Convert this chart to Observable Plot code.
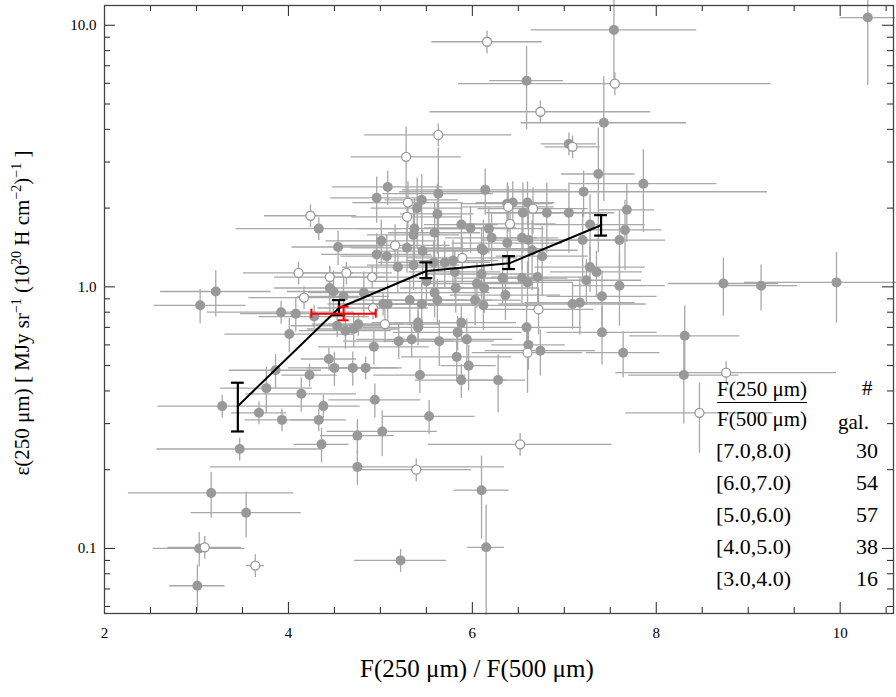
<!DOCTYPE html>
<html><head><meta charset="utf-8">
<script src="https://cdn.jsdelivr.net/npm/d3@7"></script>
<script src="https://cdn.jsdelivr.net/npm/@observablehq/plot@0.6"></script>
<style>
body{margin:0;background:#fff;}
#wrap{position:relative;width:896px;height:697px;font-family:"Liberation Serif",serif;}
.lg{position:absolute;font-size:22px;color:#000;white-space:nowrap;}
</style></head><body>
<div id="wrap"><div id="chart"></div></div>
<script>
// filled galaxies: [ratio, emissivity, ratio half-error, relative emissivity error]
const filled = [
[10.30,10.7,0.3,0.45],[7.54,9.6,0.9,0.4],[6.59,6.14,0.4,0.35],[7.43,4.24,0.9,0.5],[7.05,3.52,0.3,0.1],
[7.37,2.70,0.4,0.5],[7.86,2.48,0.8,0.35],[5.08,2.41,0.6,0.15],[4.96,2.19,0.5,0.2],[5.45,2.15,0.4,0.25],
[5.63,2.27,0.6,0.5],[6.14,2.35,0.9,0.2],[7.21,2.31,2.0,0.2],[7.68,1.97,0.3,0.25],[6.38,2.08,0.5,0.2],
[6.44,2.10,0.4,0.2],[6.60,2.10,0.3,0.2],[5.40,2.00,0.5,0.3],[5.62,1.90,0.4,0.3],[4.33,1.67,0.9,0.1],
[5.37,1.67,0.6,0.3],[5.36,1.58,0.5,0.3],[5.59,1.61,0.5,0.3],[5.88,1.73,0.4,0.2],[5.98,1.68,0.5,0.2],
[6.18,1.67,0.6,0.2],[6.55,1.92,0.4,0.3],[6.81,1.92,0.6,0.3],[7.05,1.92,0.5,0.3],[7.28,1.73,0.6,0.3],
[7.66,1.65,0.4,0.3],[7.60,1.51,0.5,0.3],[7.20,1.51,0.4,0.3],[6.21,1.54,0.5,0.25],[6.54,1.54,0.4,0.25],
[6.61,1.51,0.5,0.3],[6.38,1.47,0.6,0.3],[6.65,1.38,0.5,0.3],[6.76,1.31,0.5,0.3],[6.12,1.38,0.6,0.3],
[4.54,1.42,0.5,0.15],[5.01,1.50,0.6,0.2],[4.96,1.33,0.6,0.2],[5.07,1.31,0.5,0.2],[5.29,1.41,0.6,0.2],
[5.46,1.37,0.5,0.2],[6.10,1.40,0.7,0.2],[5.19,1.19,0.6,0.2],[5.36,1.21,0.5,0.2],[5.58,1.24,0.6,0.2],
[5.70,1.24,0.5,0.2],[5.79,1.26,0.5,0.2],[5.81,1.14,0.5,0.2],[6.10,1.12,0.6,0.2],[5.50,1.05,0.6,0.2],
[5.82,0.99,0.6,0.2],[6.05,1.03,0.6,0.2],[6.13,0.99,0.6,0.2],[3.21,0.96,0.6,0.2],[3.04,0.85,0.5,0.15],
[4.45,0.99,0.6,0.2],[4.49,0.96,0.5,0.2],[4.60,0.92,0.5,0.2],[4.82,0.95,0.6,0.2],[5.08,0.86,0.5,0.2],
[5.32,0.89,0.6,0.2],[5.45,0.86,0.6,0.2],[5.59,0.95,0.6,0.2],[5.62,0.89,0.6,0.2],[6.03,0.89,0.5,0.2],
[6.12,0.85,0.6,0.2],[7.24,1.06,0.6,0.2],[7.28,1.19,0.6,0.2],[7.35,1.14,0.5,0.2],[7.60,1.01,0.5,0.3],
[7.41,0.92,0.6,0.25],[8.73,1.03,0.6,0.25],[9.14,1.01,0.4,0.2],[9.96,1.04,1.0,0.3],[7.09,0.86,0.8,0.2],
[7.17,0.87,0.6,0.25],[6.54,1.08,0.5,0.2],[6.60,1.04,0.5,0.2],[6.71,1.09,0.5,0.2],[6.33,1.08,0.5,0.2],
[6.36,0.93,0.6,0.2],[3.92,0.80,0.8,0.1],[4.08,0.79,0.6,0.15],[4.28,0.77,0.6,0.1],[4.01,0.66,0.7,0.15],
[5.03,0.86,0.6,0.1],[5.41,0.73,0.5,0.15],[5.41,0.70,0.6,0.15],[5.88,0.73,0.6,0.15],[5.84,0.67,0.7,0.15],
[5.94,0.63,0.5,0.2],[4.93,0.59,0.6,0.15],[5.20,0.62,0.6,0.15],[5.34,0.63,0.6,0.15],[5.64,0.62,0.6,0.2],
[6.59,0.70,0.6,0.2],[6.61,0.60,0.4,0.2],[6.74,0.57,0.6,0.2],[7.41,0.67,0.6,0.25],[7.64,0.56,0.4,0.2],
[8.31,0.65,0.6,0.3],[8.30,0.46,0.6,0.35],[4.53,0.71,0.5,0.1],[4.62,0.68,0.5,0.15],[4.71,0.69,0.5,0.15],
[4.76,0.72,0.5,0.1],[4.44,0.53,0.3,0.1],[4.50,0.49,0.5,0.15],[4.70,0.49,0.5,0.15],[4.84,0.49,0.4,0.1],
[3.86,0.48,0.5,0.15],[4.23,0.46,0.3,0.1],[3.76,0.41,0.5,0.2],[4.14,0.39,0.6,0.15],[5.43,0.46,0.5,0.15],
[5.83,0.54,0.6,0.2],[5.96,0.50,0.3,0.2],[5.88,0.44,0.5,0.15],[6.28,0.44,0.3,0.25],[4.94,0.37,0.5,0.15],
[3.28,0.35,0.7,0.1],[3.68,0.33,0.3,0.1],[3.93,0.31,0.4,0.1],[4.33,0.31,0.3,0.1],[4.38,0.35,0.4,0.1],
[5.53,0.32,0.5,0.15],[5.02,0.28,0.6,0.2],[4.75,0.27,0.4,0.15],[4.36,0.25,0.3,0.15],[3.47,0.24,0.9,0.1],
[4.75,0.205,1.6,0.15],[6.10,0.167,0.3,0.35],[3.16,0.163,0.9,0.2],[3.54,0.137,0.6,0.2],[6.15,0.101,0.2,0.45],
[3.03,0.10,0.5,0.15],[5.22,0.090,0.5,0.1],[3.01,0.072,0.3,0.2]
];
// open symbols
const open = [
[6.16,8.65,0.6,0.1],[7.55,5.98,1.7,0.1],[6.74,4.67,1.2,0.1],[5.63,3.81,0.8,0.1],[5.28,3.14,0.6,0.3],
[7.09,3.43,0.3,0.1],[6.66,1.99,0.6,0.2],[6.41,1.74,0.5,0.2],[6.39,2.02,0.5,0.2],[4.24,1.87,0.5,0.1],
[5.30,2.10,0.6,0.2],[5.29,1.85,0.6,0.2],[5.16,1.44,0.6,0.2],[4.11,1.13,0.6,0.1],[4.45,1.09,0.6,0.1],
[4.63,1.13,0.5,0.1],[4.91,1.09,0.5,0.1],[5.89,1.29,0.6,0.2],[4.17,0.91,0.6,0.1],[4.92,0.83,0.6,0.1],
[6.60,0.56,0.6,0.3],[6.72,0.82,0.6,0.2],[5.05,0.72,0.6,0.15],[8.47,0.33,0.8,0.3],[8.76,0.47,1.2,0.1],
[6.52,0.25,1.0,0.1],[5.39,0.20,0.6,0.1],[3.09,0.101,0.4,0.1],[3.64,0.086,0.1,0.1]
];
// binned means
const binX = [3.45, 4.55, 5.5, 6.4, 7.4];
const binY = [0.35, 0.83, 1.15, 1.23, 1.72];
const binLo = [0.28, 0.78, 1.08, 1.17, 1.57];
const binHi = [0.43, 0.89, 1.24, 1.31, 1.88];
// red point
const redX = 4.6, redY = 0.79, redXlo = 4.25, redXhi = 4.95, redYlo = 0.745, redYhi = 0.84;
const binLabels = ["[7.0,8.0)", "[6.0,7.0)", "[5.0,6.0)", "[4.0,5.0)", "[3.0,4.0)"];
const binCounts = [30, 54, 57, 38, 16];

const xMin = 2, xMax = 10.58, yMin = 0.0564, yMax = 11.9;
const toRows = a => a.map(([x, y, xe, ye]) => ({x, y, x1: x - xe, x2: x + xe, y1: y * (1 - ye), y2: y * (1 + ye)}));
const F = toRows(filled), O = toRows(open);
const all = F.concat(O);
const bins = binX.map((x, i) => ({x, y: binY[i], lo: binLo[i], hi: binHi[i]}));

// frame ticks (inside)
const xMaj = [2,4,6,8,10], xMinr = d3.range(2, 10.6, 0.5).filter(v => !xMaj.includes(v));
const yMaj = [0.1, 1, 10];
const yMinr = [0.06,0.07,0.08,0.09,0.2,0.3,0.4,0.5,0.6,0.7,0.8,0.9,2,3,4,5,6,7,8,9];
const fy = px => Math.pow(10, px / 261.5), fx = px => px / 92.1;
const gray = "#a8a8a8";

const chart = Plot.plot({
  width: 896, height: 697,
  marginLeft: 104, marginRight: 3, marginTop: 5, marginBottom: 84,
  style: {fontFamily: "Liberation Serif, serif", fontSize: "15px", background: "white"},
  x: {domain: [xMin, xMax], ticks: xMaj, tickSize: 0, tickPadding: 14, tickFormat: d => d, label: null},
  y: {type: "log", domain: [yMin, yMax], ticks: yMaj, tickSize: 0, tickPadding: 8, tickFormat: d3.format(".1f"), label: null},
  marks: [
    Plot.ruleX(all, {x: "x", y1: "y1", y2: "y2", stroke: gray, strokeWidth: 1.3}),
    Plot.ruleY(all, {y: "y", x1: "x1", x2: "x2", stroke: gray, strokeWidth: 1.3}),
    Plot.dot(F, {x: "x", y: "y", r: 5, fill: "#999", stroke: "none"}),
    Plot.dot(O, {x: "x", y: "y", r: 4.5, fill: "white", stroke: "#999", strokeWidth: 1.3}),
    Plot.line(bins, {x: "x", y: "y", stroke: "black", strokeWidth: 2}),
    Plot.ruleX(bins, {x: "x", y1: "lo", y2: "hi", stroke: "black", strokeWidth: 2.2}),
    Plot.ruleY(bins, {y: "lo", x1: d => d.x - 0.07, x2: d => d.x + 0.07, stroke: "black", strokeWidth: 2.2}),
    Plot.ruleY(bins, {y: "hi", x1: d => d.x - 0.07, x2: d => d.x + 0.07, stroke: "black", strokeWidth: 2.2}),
    Plot.ruleY([redY], {x1: redXlo, x2: redXhi, stroke: "red", strokeWidth: 2}),
    Plot.ruleX([redXlo, redXhi], {y1: redY / 1.04, y2: redY * 1.04, stroke: "red", strokeWidth: 2}),
    Plot.ruleX([redX], {y1: redYlo, y2: redYhi, stroke: "red", strokeWidth: 2}),
    Plot.ruleY([redYlo, redYhi], {x1: redX - 0.06, x2: redX + 0.06, stroke: "red", strokeWidth: 2}),
    // inner ticks on all four sides
    Plot.ruleX(xMaj, {y1: yMin, y2: yMin * fy(11), stroke: "#222"}),
    Plot.ruleX(xMinr, {y1: yMin, y2: yMin * fy(6), stroke: "#222"}),
    Plot.ruleX(xMaj, {y1: yMax, y2: yMax / fy(11), stroke: "#222"}),
    Plot.ruleX(xMinr, {y1: yMax, y2: yMax / fy(6), stroke: "#222"}),
    Plot.ruleY(yMaj, {x1: xMin, x2: xMin + fx(11), stroke: "#222"}),
    Plot.ruleY(yMinr, {x1: xMin, x2: xMin + fx(6), stroke: "#222"}),
    Plot.ruleY(yMaj, {x1: xMax, x2: xMax - fx(11), stroke: "#222"}),
    Plot.ruleY(yMinr, {x1: xMax, x2: xMax - fx(6), stroke: "#222"}),
    Plot.frame({stroke: "#444", strokeWidth: 1.3})
  ]
});
d3.select("#chart").append(() => chart);

const wrap = d3.select("#wrap");
wrap.append("div").attr("class", "lg").style("left", "360px").style("top", "655px").style("font-size", "25px")
  .text("F(250 μm) / F(500 μm)");
wrap.append("div").attr("class", "lg")
  .style("left", "-148px").style("top", "300px").style("width", "340px").style("text-align", "center")
  .style("font-size", "21px").style("transform", "rotate(-90deg)")
  .html("ε(250 μm) [ MJy sr<sup style='font-size:14px'>−1</sup> (10<sup style='font-size:14px'>20</sup> H cm<sup style='font-size:14px'>−2</sup>)<sup style='font-size:14px'>−1</sup> ]");
wrap.append("div").attr("class", "lg").style("left", "717px").style("top", "376px").style("font-size", "21px")
  .html("<span style='border-bottom:1.5px solid #000;display:inline-block;line-height:26px'>F(250 μm)</span><br><span style='line-height:32px'>F(500 μm)</span>");
wrap.append("div").attr("class", "lg").style("left", "862px").style("top", "376px").style("font-size", "21px").text("#");
wrap.append("div").attr("class", "lg").style("left", "838px").style("top", "410px").style("font-size", "21px").text("gal.");
binLabels.forEach((t, i) => {
  wrap.append("div").attr("class", "lg").style("left", "716px").style("top", (438 + i * 32) + "px").text(t);
  wrap.append("div").attr("class", "lg").style("left", "840px").style("width", "38px").style("text-align", "right")
    .style("top", (438 + i * 32) + "px").text(binCounts[i]);
});
</script></body></html>
